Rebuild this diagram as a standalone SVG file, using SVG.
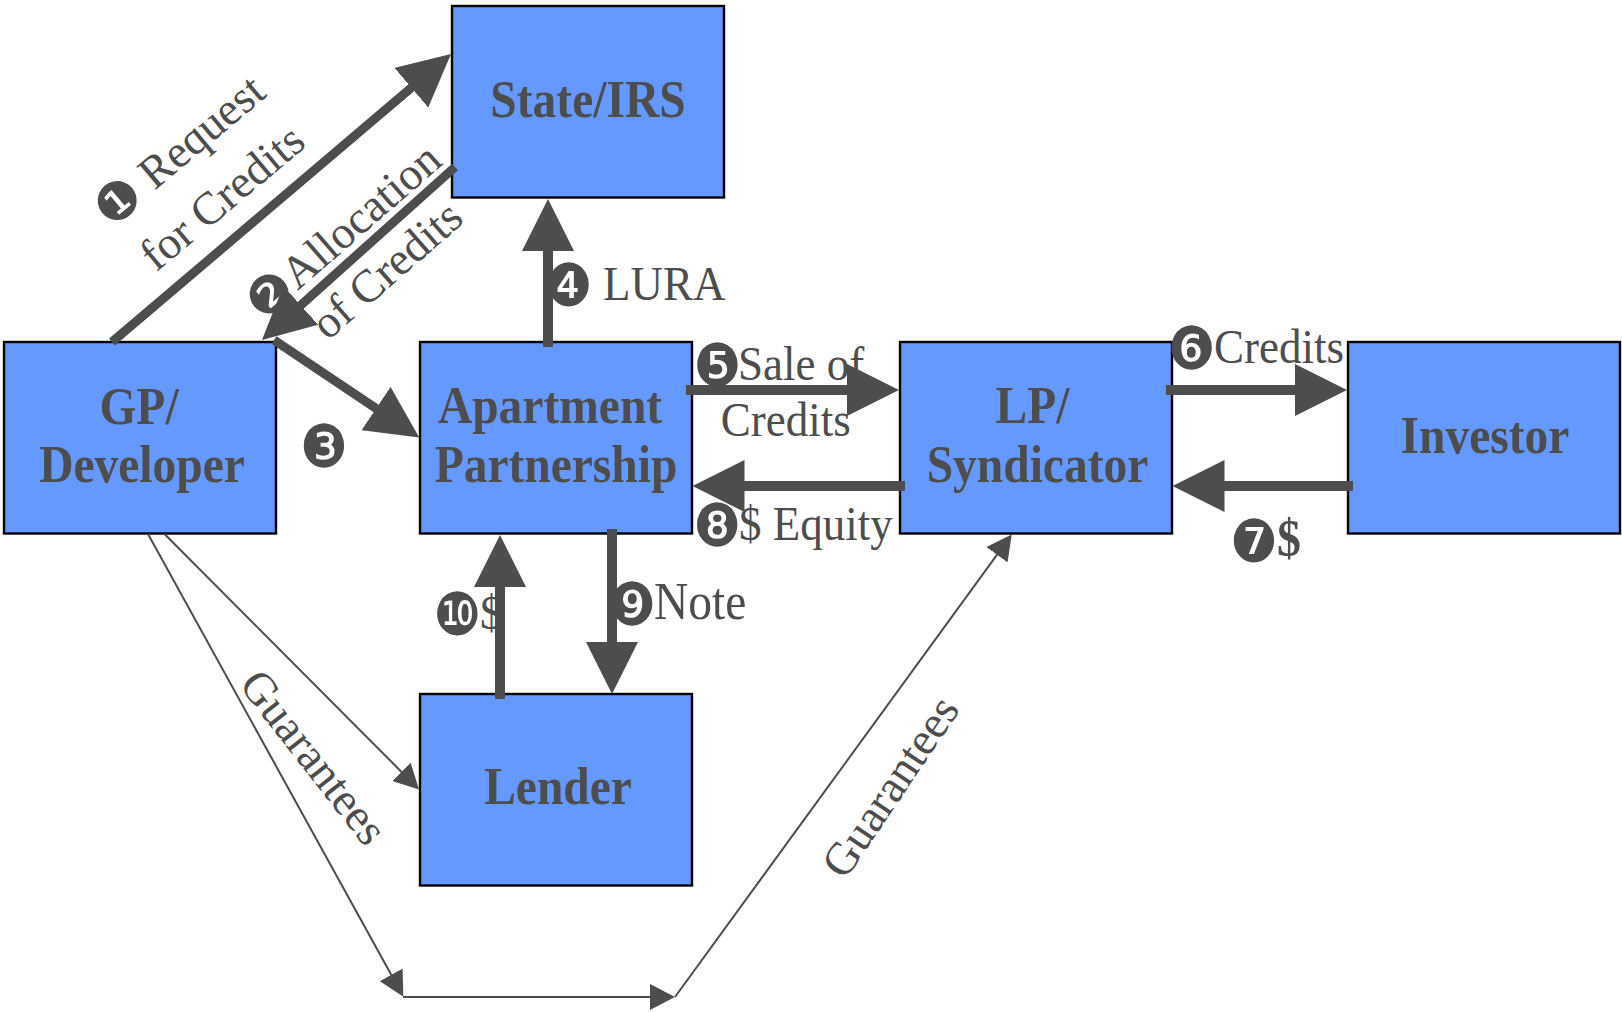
<svg xmlns="http://www.w3.org/2000/svg" width="1622" height="1012" viewBox="0 0 1622 1012">
<style>
.box{fill:#6699FF;stroke:#000;stroke-width:2.4}
.bt{font-family:"Liberation Serif",serif;font-weight:bold;font-size:47.5px;fill:#4D4D4D;text-anchor:middle}
.lb{font-family:"Liberation Serif",serif;font-size:45px;fill:#4D4D4D}
.rl{font-family:"Liberation Serif",serif;font-size:46px;fill:#4D4D4D;text-anchor:middle;dominant-baseline:central}
.num{font-family:"DejaVu Sans",sans-serif;font-size:54px}
.rnum{font-family:"DejaVu Sans",sans-serif;font-size:52px}
.thick{stroke:#4D4D4D;stroke-width:10;fill:none;marker-end:url(#big)}
.diag{stroke:#4D4D4D;stroke-width:9;fill:none;marker-end:url(#big)}
.thin{stroke:#4D4D4D;stroke-width:2;fill:none;marker-end:url(#small)}
</style>
<defs>
<marker id="big" markerUnits="userSpaceOnUse" viewBox="0 0 52 52" markerWidth="52" markerHeight="52" refX="2" refY="26" orient="auto"><path d="M0,0 L52,26 L0,52 Z" fill="#4D4D4D"/></marker>
<marker id="small" markerUnits="userSpaceOnUse" viewBox="0 0 25 26" markerWidth="25" markerHeight="26" refX="2" refY="13" orient="auto"><path d="M0,0 L25,13 L0,26 Z" fill="#4D4D4D"/></marker>
</defs>
<rect width="1622" height="1012" fill="#fff"/>

<g id="node-state">
<rect class="box" x="452" y="6" width="272" height="191.5"/>
<text class="bt" font-size="48.5" transform="translate(588,117.3) scale(1,1.1)">State/IRS</text>
</g>
<g id="node-gp">
<rect class="box" x="4" y="342" width="272" height="191.5"/>
<text class="bt" font-size="48.5" transform="translate(139,424) scale(1,1.1)">GP/</text>
<text class="bt" font-size="48.5" transform="translate(142,481.7) scale(1,1.1)">Developer</text>
</g>
<g id="node-apt">
<rect class="box" x="420" y="342" width="272" height="191.5"/>
<text class="bt" font-size="47" transform="translate(550,423.3) scale(1,1.1)">Apartment</text>
<text class="bt" font-size="47" transform="translate(556,481.7) scale(1,1.1)">Partnership</text>
</g>
<g id="node-lp">
<rect class="box" x="900" y="342" width="272" height="191.5"/>
<text class="bt" font-size="47" transform="translate(1032.5,423.3) scale(1,1.1)">LP/</text>
<text class="bt" font-size="47" transform="translate(1037.5,481.7) scale(1,1.1)">Syndicator</text>
</g>
<g id="node-investor">
<rect class="box" x="1348" y="342" width="272" height="191.5"/>
<text class="bt" font-size="47.8" transform="translate(1485,452.7) scale(1,1.1)">Investor</text>
</g>
<g id="node-lender">
<rect class="box" x="420" y="694" width="272" height="191.5"/>
<text class="bt" font-size="48" transform="translate(558,804) scale(1,1.1)">Lender</text>
</g>

<g id="labels">
<text class="rl" transform="rotate(-40 179 150)" x="179" y="150"><tspan class="rnum">❶</tspan> Request</text>
<text class="rl" transform="rotate(-40 222 197)" x="222" y="197">for Credits</text>
<text class="rl" transform="rotate(-41 343 231)" x="343" y="231"><tspan class="rnum">❷</tspan>Allocation</text>
<text class="rl" font-size="47" transform="rotate(-41 386.5 269.5)" x="386.5" y="269.5">of Credits</text>
<text class="lb" transform="translate(0,300) scale(1,1.1)"><tspan class="num" x="544.7" y="5">❹ </tspan><tspan x="603" y="0">LURA</tspan></text>
<text class="lb" transform="translate(0,461.5) scale(1,1.1)"><tspan class="num" x="299.7" y="5">❸</tspan></text>
<text class="lb" transform="translate(0,380) scale(1,1.1)"><tspan class="num" x="693.1" y="5">❺</tspan><tspan x="738" y="0">Sale of</tspan></text>
<text class="lb" transform="translate(720.7,436) scale(1,1.1)">Credits</text>
<text class="lb" transform="translate(0,540) scale(1,1.1)"><tspan class="num" x="693.1" y="5">❽</tspan><tspan x="739" y="0">$ Equity</tspan></text>
<text class="lb" transform="translate(0,363.3) scale(1,1.1)"><tspan class="num" x="1167.4" y="5">❻</tspan><tspan x="1214" y="0">Credits</tspan></text>
<text class="lb" transform="translate(0,556) scale(1,1.1)"><tspan class="num" x="1229.7" y="5">❼</tspan><tspan x="1277" y="0" font-weight="bold" font-size="48">$</tspan></text>
<text class="lb" transform="translate(0,619.3) scale(1,1.1)"><tspan class="num" x="608.1" y="5">❾</tspan><tspan x="654" y="0" font-size="47.5">Note</tspan></text>
<text class="lb" transform="translate(0,629) scale(1,1.1)"><tspan class="num" x="433.1" y="5">❿</tspan><tspan x="480" y="0">$</tspan></text>
<text class="rl" font-size="46" transform="rotate(52 314 757)" x="314" y="757">Guarantees</text>
<text class="rl" font-size="45" transform="rotate(-56 890 786.5)" x="890" y="786.5">Guarantees</text>
</g>

<g id="connectors">
<path class="diag" d="M112,342 L412.9,86.4"/>
<path class="diag" d="M455,167 L299.2,306.6"/>
<path class="diag" d="M274,340 L377.7,409.6"/>
<path class="thick" d="M548,347 L548,249"/>
<path class="thick" d="M686,390 L849,390"/>
<path class="thick" d="M1166,390 L1297,390"/>
<path class="thick" d="M1353,486 L1222.5,486"/>
<path class="thick" d="M905,486 L742.5,486"/>
<path class="thick" d="M612,529 L612,644"/>
<path class="thick" d="M500,699 L500,585"/>
<path class="thin" d="M164.5,534 L402.8,773.2"/>
<path class="thin" d="M148,534 L392.2,976.6"/>
<path class="thin" d="M403,997 L652,997"/>
<path class="thin" d="M675,997 L998.2,553.1"/>
</g>
</svg>
